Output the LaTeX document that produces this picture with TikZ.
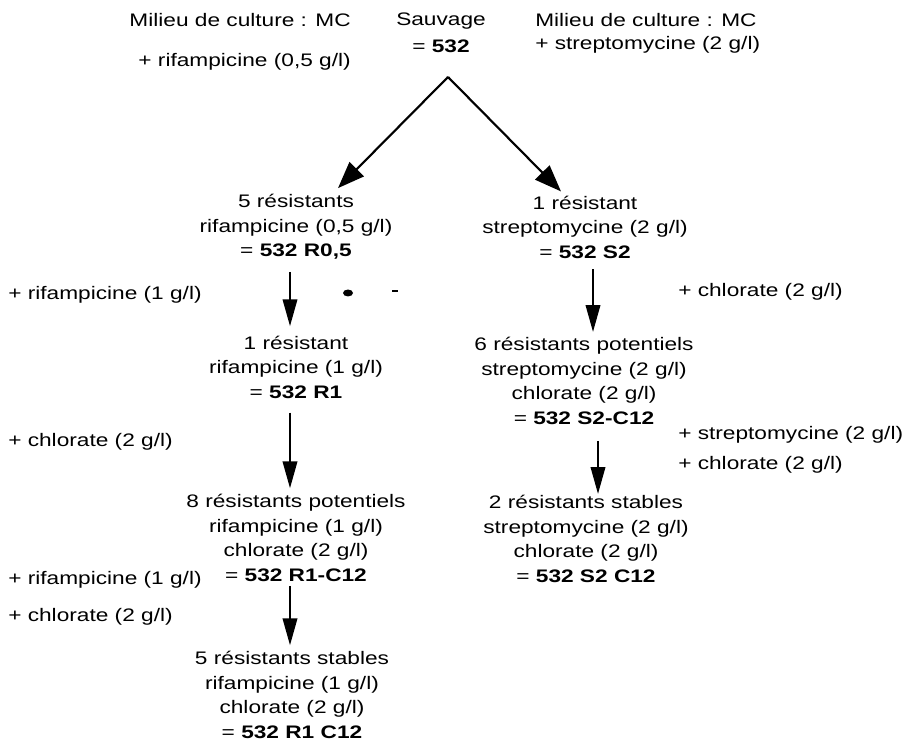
\documentclass[tikz,border=0pt]{standalone}
\usepackage{fontspec}
\setmainfont{Liberation Sans}[FakeStretch=1.25]
\usetikzlibrary{arrows.meta}

\begin{document}
\begin{tikzpicture}[x=0.75pt, y=-0.75pt,
  every node/.style={font=\fontsize{13.6}{18.4}\selectfont, inner sep=0pt},
  souche/.style={align=center},
  milieu/.style={anchor=west},
  fleche/.style={-{Triangle[length=20pt, width=11pt]}, line width=1pt},
  diag/.style={-{Triangle[length=20pt, width=15pt]}, line width=1.6pt}]
\useasboundingbox (0,0) rectangle (911,748);
\node[anchor=east] (mcg) at (351,20) {Milieu de culture : MC};
\node[anchor=east] (rifg) at (351,62) {+ rifampicine (0,5 g/l)};
\node[souche] (sauv) at (441,33) {Sauvage\\[1.5pt]= \textbf{532}};
\node[milieu] (mcd) at (535,20) {Milieu de culture : MC};
\node[milieu] (strd) at (535,45) {+ streptomycine (2 g/l)};
\coordinate (apex) at (448,77);

\node[souche] (r05) at (296,227) {5 résistants\\rifampicine (0,5 g/l)\\= \textbf{532 R0,5}};
\node[souche] (r1) at (296,367) {1 résistant\\rifampicine (1 g/l)\\= \textbf{532 R1}};
\node[souche] (r1c) at (296,538) {8 résistants potentiels\\rifampicine (1 g/l)\\chlorate (2 g/l)\\= \textbf{532 R1-C12}};
\node[souche] (r1cs) at (292,695) {5 résistants stables\\rifampicine (1 g/l)\\chlorate (2 g/l)\\= \textbf{532 R1 C12}};

\node[souche] (s2) at (585,227) {1 résistant\\streptomycine (2 g/l)\\= \textbf{532 S2}};
\node[souche] (s2c) at (584,381) {6 résistants potentiels\\streptomycine (2 g/l)\\chlorate (2 g/l)\\= \textbf{532 S2-C12}};
\node[souche] (s2cs) at (586,539) {2 résistants stables\\streptomycine (2 g/l)\\chlorate (2 g/l)\\= \textbf{532 S2 C12}};

\node[milieu] (ajr1) at (8,295) {+ rifampicine (1 g/l)};
\node[milieu] (ajc1) at (8,442) {+ chlorate (2 g/l)};
\node[milieu] (ajr2) at (8,580) {+ rifampicine (1 g/l)};
\node[milieu] (ajc2) at (8,617) {+ chlorate (2 g/l)};
\node[milieu] (ajc3) at (678,292) {+ chlorate (2 g/l)};
\node[milieu] (ajs4) at (678,435) {+ streptomycine (2 g/l)};
\node[milieu] (ajc4) at (678,465) {+ chlorate (2 g/l)};

\draw[diag] (apex) -- ([xshift=31.5pt,yshift=4.5pt]r05.north);
\draw[diag] (apex) -- ([xshift=-18pt,yshift=3pt]s2.north);
\draw[fleche, shorten <=9pt, shorten >=7pt] ([xshift=-4.5pt]r05.south) -- ([xshift=-4.5pt]r1.north);
\draw[fleche, shorten <=10.5pt, shorten >=4.5pt] ([xshift=-4.5pt]r1.south) -- ([xshift=-4.5pt]r1c.north);
\draw[fleche, shorten <=3pt, shorten >=4.5pt] ([xshift=-4.5pt]r1c.south) -- ([xshift=-1.5pt]r1cs.north);
\draw[fleche, shorten <=8pt, shorten >=4pt] ([xshift=6pt]s2.south) -- ([xshift=6.75pt]s2c.north);
\draw[fleche, shorten <=12pt, shorten >=1pt] ([xshift=10.5pt]s2c.south) -- ([xshift=9pt]s2cs.north);

\fill (348,293) ellipse [x radius=3.75pt, y radius=2.6pt];
\draw[line width=2pt] (392,291) -- (398,291);
\end{tikzpicture}
\end{document}
